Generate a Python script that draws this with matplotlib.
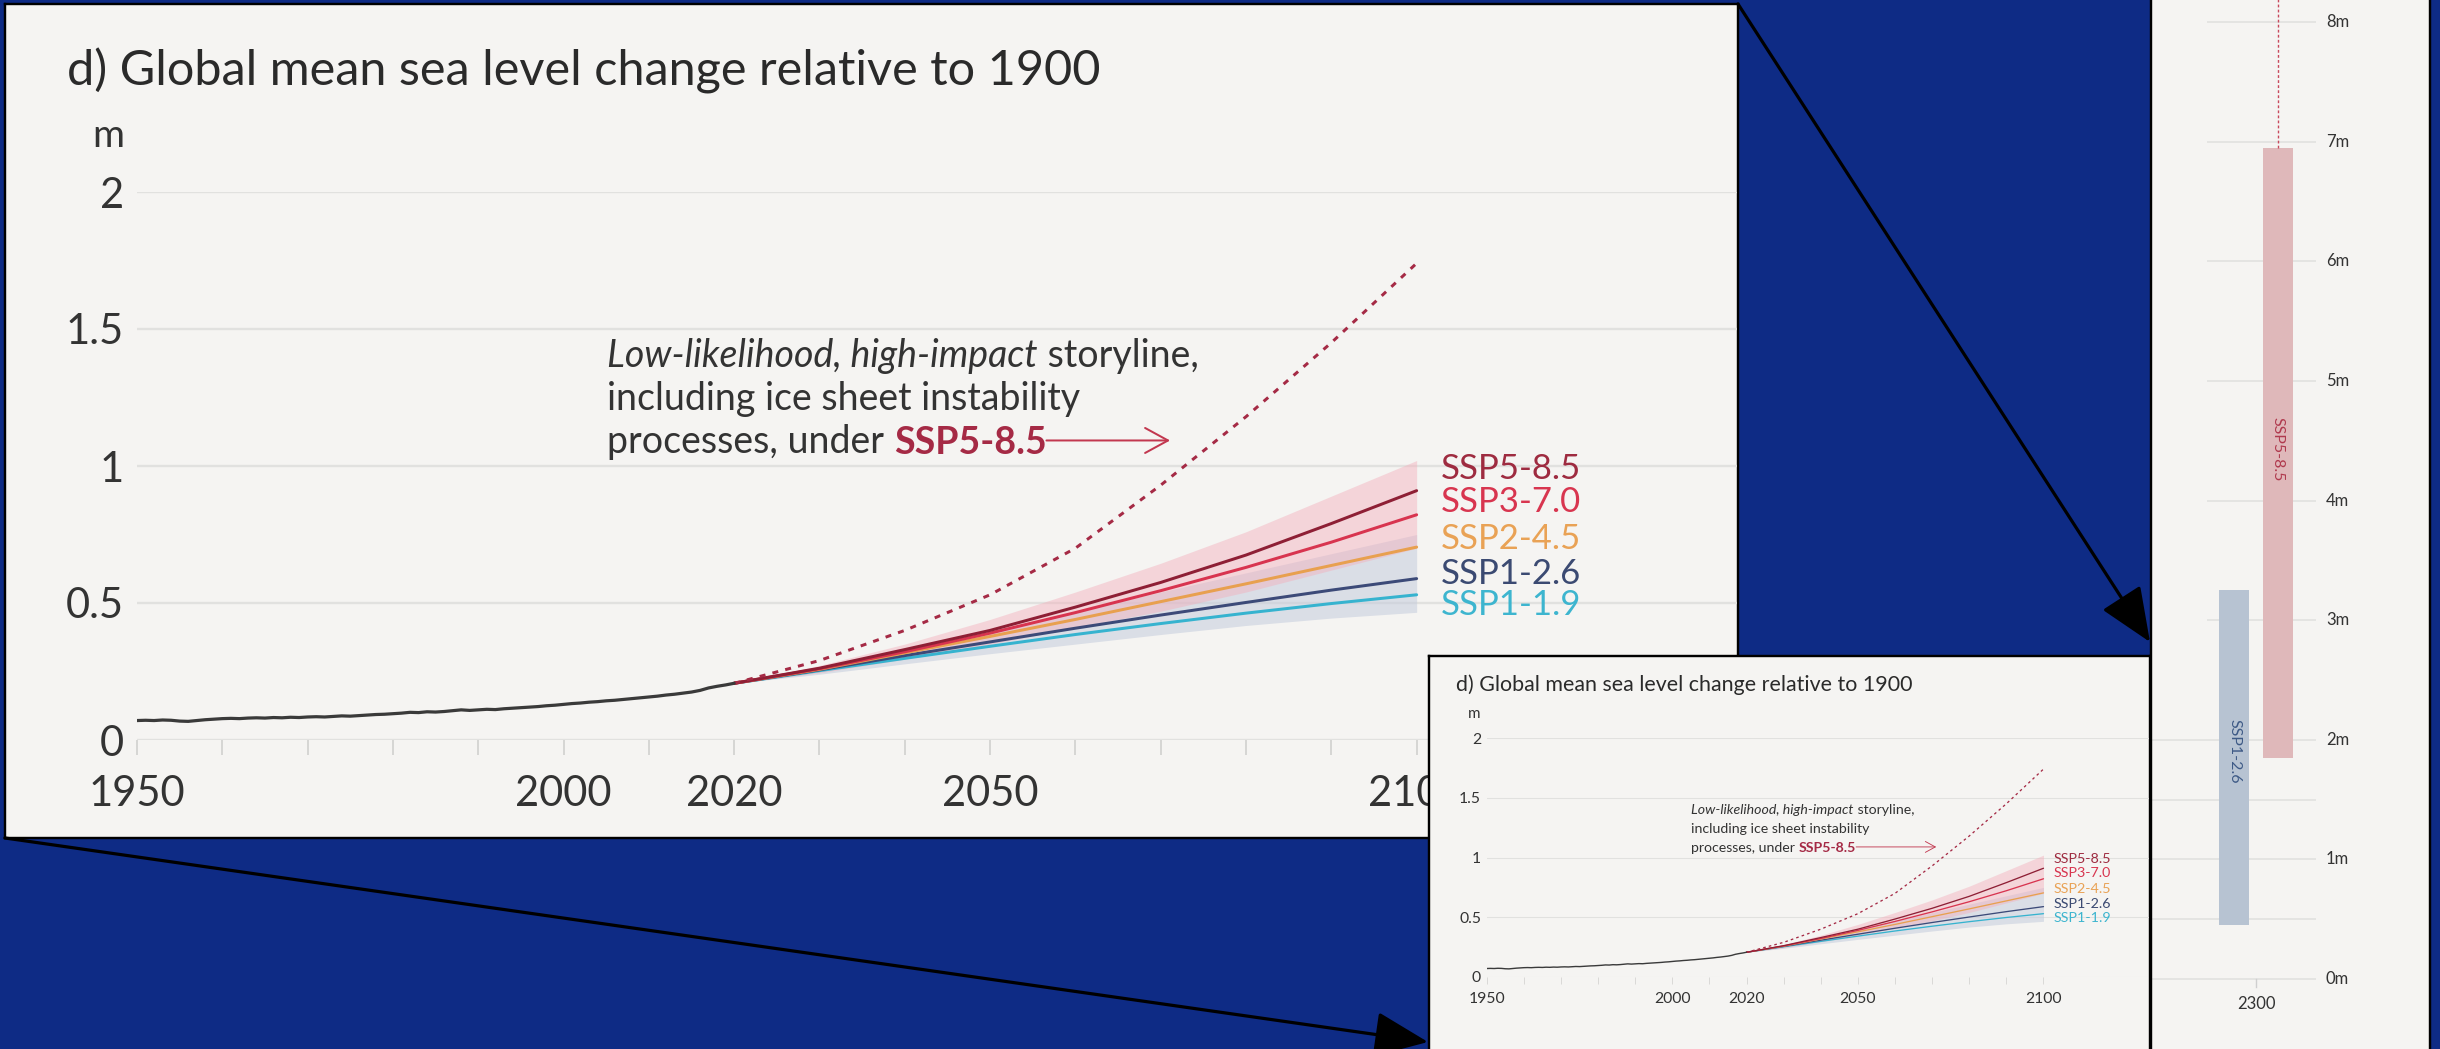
import matplotlib
matplotlib.use("Agg")
import matplotlib.pyplot as plt

# ---------------- data ----------------
obs_years = list(range(1950, 2021))
obs_values = [
    0.071, 0.072, 0.071, 0.073, 0.072, 0.069, 0.068, 0.071, 0.074, 0.076,
    0.078, 0.079, 0.078, 0.080, 0.081, 0.080, 0.082, 0.081, 0.083, 0.082,
    0.084, 0.085, 0.084, 0.086, 0.088, 0.087, 0.089, 0.091, 0.093, 0.094,
    0.096, 0.098, 0.101, 0.100, 0.103, 0.102, 0.104, 0.107, 0.110, 0.108,
    0.110, 0.112, 0.111, 0.114, 0.116, 0.118, 0.120, 0.122, 0.125, 0.127,
    0.130, 0.133, 0.135, 0.138, 0.140, 0.143, 0.145, 0.148, 0.151, 0.154,
    0.157, 0.160, 0.164, 0.167, 0.171, 0.175, 0.181, 0.190, 0.196, 0.201,
    0.207,
]

proj_years = [2020, 2030, 2040, 2050, 2060, 2070, 2080, 2090, 2100]
ssp585 = [0.207, 0.262, 0.330, 0.400, 0.485, 0.575, 0.675, 0.790, 0.910]
ssp370 = [0.207, 0.260, 0.322, 0.390, 0.465, 0.545, 0.630, 0.722, 0.822]
ssp245 = [0.207, 0.258, 0.318, 0.378, 0.440, 0.505, 0.570, 0.637, 0.704]
ssp126 = [0.207, 0.256, 0.308, 0.358, 0.408, 0.456, 0.502, 0.547, 0.589]
ssp119 = [0.207, 0.253, 0.298, 0.342, 0.385, 0.425, 0.463, 0.498, 0.530]
ssp585_low = [0.207, 0.245, 0.295, 0.350, 0.410, 0.470, 0.540, 0.620, 0.700]
ssp585_high = [0.207, 0.272, 0.350, 0.440, 0.540, 0.645, 0.760, 0.890, 1.020]
ssp126_low = [0.207, 0.240, 0.278, 0.315, 0.350, 0.385, 0.418, 0.445, 0.466]
ssp126_high = [0.207, 0.266, 0.330, 0.398, 0.468, 0.540, 0.610, 0.680, 0.750]
storyline = [0.207, 0.290, 0.400, 0.530, 0.700, 0.930, 1.180, 1.450, 1.740]

scenario_names = ["SSP5-8.5", "SSP3-7.0", "SSP2-4.5", "SSP1-2.6", "SSP1-1.9"]
scenario_series = [ssp585, ssp370, ssp245, ssp126, ssp119]
scenario_label_y = [0.990, 0.868, 0.734, 0.607, 0.494]

y_ticks = [0, 0.5, 1, 1.5, 2]
y_tick_labels = ["0", "0.5", "1", "1.5", "2"]
x_decades = list(range(1950, 2101, 10))
x_labeled = [1950, 2000, 2020, 2050, 2100]

# 2300 ranges (m)
bar_names = ["SSP1-2.6", "SSP5-8.5"]
bar_low = [0.45, 1.85]
bar_high = [3.25, 6.95]
storyline_2300_top = 16.0
right_ticks = [0, 1, 2, 3, 4, 5, 6, 7, 8]

# ---------------- style ----------------
W, H = 2440, 1049
DPI = 100
PT = 72 / DPI
NAVY = "#0E2B85"
PANEL_BG = "#F5F4F2"
GRID = "#E1E1DF"
TXT = "#333333"
FONT = "Lato"

scen_line_colors = ["#8E1F35", "#D8344F", "#E8A04F", "#3C4A78", "#36B3CF"]
scen_text_colors = ["#9E2B40", "#D8354F", "#E9A255", "#3B4A72", "#3DB5CF"]
STORY_RED = "#A52A45"

plt.rcParams["font.family"] = [FONT, "DejaVu Sans"]

fig = plt.figure(figsize=(W / DPI, H / DPI), dpi=DPI, facecolor=NAVY)


def frac(x0, y0, x1, y1):
    return [x0 / W, 1 - y1 / H, (x1 - x0) / W, (y1 - y0) / H]


def frame(x0, y0, x1, y1, z):
    a = fig.add_axes(frac(x0, y0, x1, y1), zorder=z)
    a.set_facecolor(PANEL_BG)
    a.set_xticks([])
    a.set_yticks([])
    for s in a.spines.values():
        s.set_color("black")
        s.set_linewidth(2.4 * PT)
    return a


def draw_chart(ax, k, xmax, fonts, clip_frame=None):
    ax.set_facecolor("none")
    ax.set_xlim(1950, xmax)
    ax.set_ylim(0, 2)
    for s in ax.spines.values():
        s.set_visible(False)
    for v in y_ticks:
        ax.axhline(v, color=GRID, lw=2.4 * k * PT, zorder=0)

    ax.set_xticks(x_decades)
    ax.set_xticklabels([str(d) if d in x_labeled else "" for d in x_decades])
    ax.tick_params(axis="x", length=15 * k * PT, width=2 * k * PT, color="#D6D6D4",
                   labelsize=fonts["tick"], labelcolor=TXT, pad=20 * k * PT)
    ax.set_yticks(y_ticks)
    ax.set_yticklabels(y_tick_labels)
    ax.tick_params(axis="y", length=0, labelsize=fonts["tick"], labelcolor=TXT,
                   pad=13 * k * PT)

    ax.annotate("d) Global mean sea level change relative to 1900", xy=(0, 2),
                xycoords=("axes fraction", "data"), xytext=(-70 * k, 107 * k),
                textcoords="offset pixels", ha="left", va="baseline",
                fontsize=fonts["title"], color="#2A2A2A", annotation_clip=False)
    ax.annotate("m", xy=(0, 2), xycoords=("axes fraction", "data"),
                xytext=(-29 * k, 56 * k), textcoords="offset pixels",
                ha="center", va="center", fontsize=fonts["m"], color=TXT,
                annotation_clip=False)

    ax.fill_between(proj_years, ssp126_low, ssp126_high, color="#C4CCDD",
                    alpha=0.55, lw=0, zorder=1)
    ax.fill_between(proj_years, ssp585_low, ssp585_high, color="#F4AEBB",
                    alpha=0.45, lw=0, zorder=1)

    ax.plot(obs_years, obs_values, color="#3A3A3A", lw=3.2 * k * PT, zorder=4,
            solid_capstyle="round")
    for series, col in zip(scenario_series[::-1], scen_line_colors[::-1]):
        ax.plot(proj_years, series, color=col, lw=3.0 * k * PT, zorder=3,
                solid_capstyle="round")
    ax.plot(proj_years, storyline, color=STORY_RED, lw=3.0 * k * PT, zorder=3,
            dashes=(2.0, 2.4))

    for name, yl, col in zip(scenario_names, scenario_label_y, scen_text_colors):
        ax.text(2102.8, yl, name, ha="left", va="center", fontsize=fonts["ssp"],
                color=col, zorder=5)

    fs = fonts["note"]
    x0 = 2005.1
    t1 = ax.text(x0, 1.362, "Low-likelihood, high-impact", style="italic",
                 fontsize=fs, color=TXT, ha="left", va="baseline")
    ax.annotate(" storyline,", xy=(1, 0), xycoords=t1, ha="left", va="bottom",
                fontsize=fs, color=TXT)
    ax.text(x0, 1.205, "including ice sheet instability", fontsize=fs,
            color=TXT, ha="left", va="baseline")
    t5 = ax.text(x0, 1.048, "processes, under ", fontsize=fs, color=TXT,
                 ha="left", va="baseline")
    t6 = ax.annotate("SSP5-8.5", xy=(1, 0), xycoords=t5, ha="left", va="bottom",
                     fontsize=fs, color=STORY_RED, weight="bold")
    ax.annotate("", xy=(2071.1, 0.57), xycoords=("data", t6),
                xytext=(1.0, 0.57), textcoords=t6,
                arrowprops=dict(arrowstyle="->,head_length=0.55,head_width=0.3",
                                color="#C2374F", lw=2.0 * k * PT,
                                mutation_scale=30 * k, shrinkA=0, shrinkB=0))

    if clip_frame is not None:
        # the magnified view is cropped by its own frame
        for lab in ax.get_xticklabels():
            lab.set_clip_path(clip_frame.patch)


# big magnified panel
big_frame = frame(5, 4, 1738, 838, 1)
big = fig.add_axes(frac(137, 192, 1737, 740), zorder=2)
draw_chart(big, 1.0, 1950 + (1737 - 137) / 8.531,
           dict(title=35, tick=30, m=28, note=27, ssp=25), clip_frame=big_frame)

# original-size panel
frame(1429, 656, 2150, 1070, 3)
small = fig.add_axes(frac(1486.7, 738, 2149, 977), zorder=4)
k_small = 0.4355
draw_chart(small, k_small, 1950 + (2149 - 1486.7) / 3.712,
           dict(title=15.4, tick=26 * k_small, m=25 * k_small,
                note=23.4 * k_small, ssp=23.5 * k_small))

# 2300 panel
rax = fig.add_axes(frac(2151, -10, 2430, 1070), zorder=5)
rax.set_facecolor(PANEL_BG)
rax.set_xlim(-2.414, 4.0)
rax.set_ylim(-(1070 - 979) / 119.6, (979 + 10) / 119.6)
rax.set_xticks([])
rax.set_yticks([])
for side, s in rax.spines.items():
    s.set_color("black")
    s.set_linewidth(2.4 * PT)
    if side in ("top", "bottom"):
        s.set_visible(False)
for v in right_ticks:
    x_start = -2.414 if v <= 2 else -1.126
    rax.hlines(v, x_start, 1.379, color=GRID, lw=1.6 * PT, zorder=0)
    rax.text(1.609, v, f"{v}m", ha="left", va="center", fontsize=12, color=TXT)
for v in (0.5, 1.5):
    rax.hlines(v, -2.414, 1.379, color=GRID, lw=1.6 * PT, zorder=0)

bar_x = [-0.5, 0.5]
rax.bar(bar_x, [h - l for l, h in zip(bar_low, bar_high)], bottom=bar_low,
        width=0.69, color=["#B7C3D2", "#DFB8BA"], zorder=2)
rax.plot([0.5, 0.5], [bar_high[1], storyline_2300_top], color="#C8485C",
         lw=1.4 * PT, dashes=(2.0, 1.6), zorder=3)
label_y = [(bar_low[0] + bar_high[0]) / 2 + 0.05, 4.43]
rax.text(-0.5, label_y[0], bar_names[0], rotation=-90, ha="center", va="center",
         fontsize=11.5, color="#3E5A86", zorder=4)
rax.text(0.5, label_y[1], bar_names[1], rotation=-90, ha="center", va="center",
         fontsize=11.5, color="#B03A4E", zorder=4)
rax.plot([0, 0], [0, -0.07], color="#CFCFCF", lw=1.4 * PT)
rax.text(0, -0.209, "2300", ha="center", va="center", fontsize=12, color=TXT)

# connector arrows between panels
ov = fig.add_axes([0, 0, 1, 1], zorder=10)
ov.set_xlim(0, W)
ov.set_ylim(H, 0)
ov.axis("off")
ov.patch.set_alpha(0)
arrow_kw = dict(arrowstyle="-|>,head_length=1.3,head_width=0.55", color="black",
                lw=3.2 * PT, mutation_scale=26, shrinkA=0, shrinkB=0)
ov.annotate("", xy=(1428, 1042), xytext=(5, 838), arrowprops=arrow_kw)
ov.annotate("", xy=(2150, 642), xytext=(1738, 4), arrowprops=arrow_kw)

fig.savefig("out.png", dpi=DPI, facecolor=NAVY)
